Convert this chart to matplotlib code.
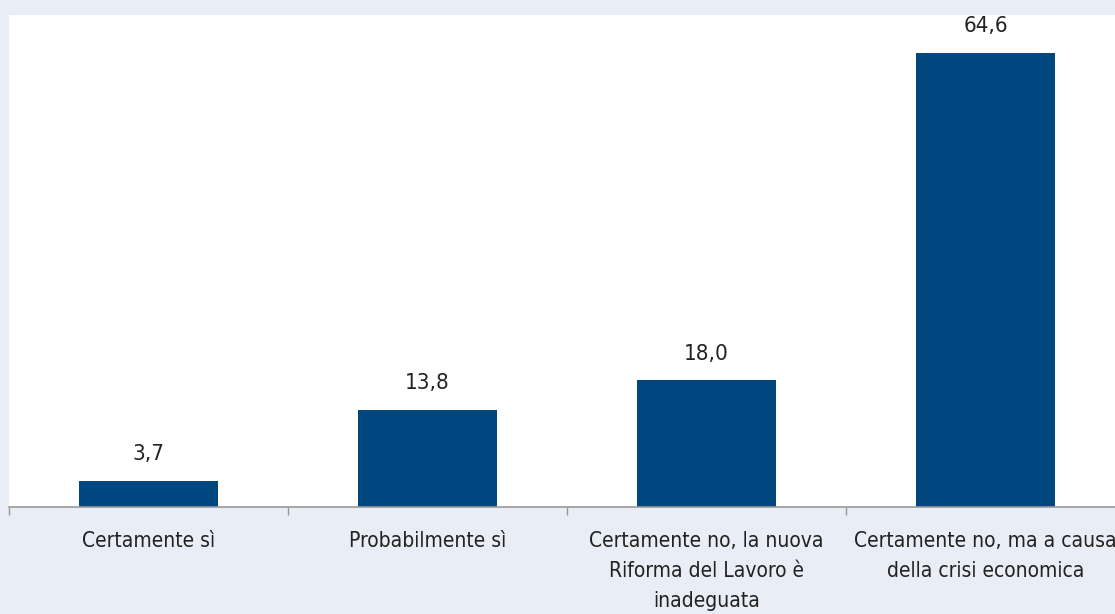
import matplotlib
matplotlib.use("Agg")
import matplotlib.pyplot as plt
import numpy as np

# dati
categorie = ["Certamente sì", "Probabilmente sì",
             "Certamente no, la nuova\nRiforma del Lavoro è\ninadeguata",
             "Certamente no, ma a causa\ndella crisi economica"]
valori = [3.7, 13.8, 18.0, 64.6]

bg = "#e9edf5"
blu = "#00477f"
testo = "#222222"

plt.rcParams['font.family'] = ['DejaVu Sans']
plt.rcParams['font.stretch'] = 'condensed'

fig = plt.figure(figsize=(11.15, 6.14), dpi=100, facecolor=bg)
W, H = 1115, 614
ax = fig.add_axes([9 / W, (H - 507) / H, 1116 / W, (507 - 15) / H])
ax.set_facecolor("white")

x = np.arange(len(valori))
ax.bar(x, valori, width=0.5, color=blu, zorder=2)
for xi, v in zip(x, valori):
    ax.text(xi, v + 2.4, f"{v:.1f}".replace(".", ","), ha="center", va="bottom",
            fontsize=16, color=testo)

ax.set_xlim(-0.5, len(valori) - 0.5)
ax.set_ylim(0, 70)
ax.set_yticks([])
ax.set_xticks(x)
ax.set_xticklabels(categorie, fontsize=15, color=testo, linespacing=1.6)
ax.set_xticks(np.arange(len(valori) + 1) - 0.5, minor=True)
ax.tick_params(axis="x", which="major", length=0, pad=17.5)
ax.tick_params(axis="x", which="minor", length=6, color="#999999", width=1)
for s in ["top", "right", "left"]:
    ax.spines[s].set_visible(False)
ax.spines["bottom"].set_color("#999999")
ax.spines["bottom"].set_linewidth(1.2)

fig.savefig("out.png", dpi=100, facecolor=bg)
